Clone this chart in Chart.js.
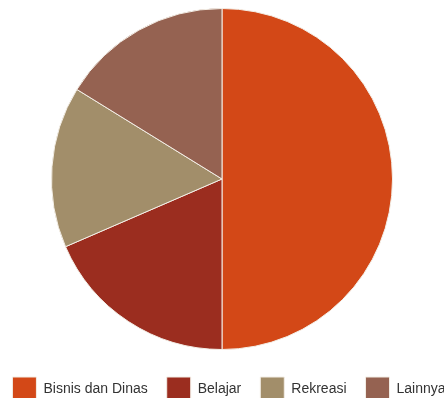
<!DOCTYPE html>
<html>
<head>
<meta charset="utf-8">
<script src="https://cdn.jsdelivr.net/npm/chart.js@4/dist/chart.umd.min.js"></script>
<style>
  html, body { margin: 0; padding: 0; overflow: hidden; background: #fff; width: 444px; height: 398px; }
  #wrap { position: absolute; left: -28px; top: 0; width: 500px; height: 403px; }
</style>
</head>
<body>
<div id="wrap"><canvas id="c" width="500" height="403"></canvas></div>
<script>
const categories = ["Bisnis dan Dinas", "Belajar", "Rekreasi", "Lainnya"];
const values = [50.0, 18.5, 15.3, 16.2];
const colors = ["#D34817", "#9B2D1F", "#A28E6A", "#956251"];

const shiftLegend = {
  id: 'shiftLegend',
  afterLayout(chart) {
    const lg = chart.legend;
    if (lg) { lg.left += 7; lg.right += 7; lg.top += 8; lg.bottom += 8; }
  }
};

new Chart(document.getElementById('c'), {
  type: 'pie',
  data: {
    labels: categories,
    datasets: [{
      data: values,
      backgroundColor: colors,
      borderColor: '#f3eee6',
      borderWidth: 1
    }]
  },
  options: {
    responsive: false,
    animation: false,
    layout: { padding: { top: 8, bottom: 0, left: 0, right: 0 } },
    plugins: {
      legend: {
        position: 'bottom',
        labels: {
          boxWidth: 24,
          boxHeight: 24,
          padding: 19,
          color: '#333333',
          font: { family: 'Liberation Sans, Arial, sans-serif', size: 14 }
        }
      },
      tooltip: { enabled: false }
    }
  },
  plugins: [shiftLegend]
});
</script>
</body>
</html>
